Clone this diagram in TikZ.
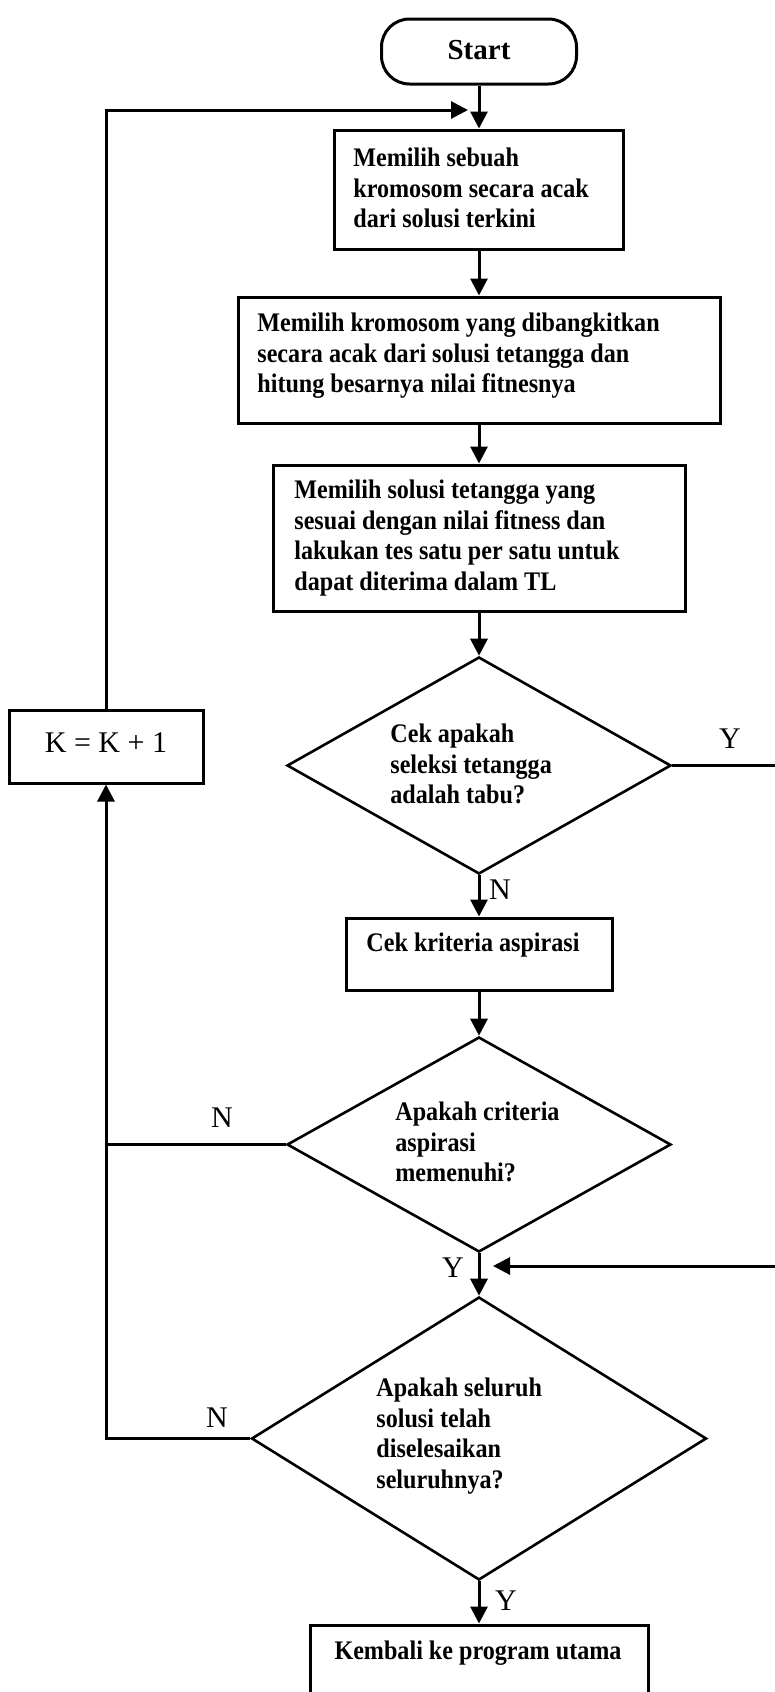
\documentclass[tikz,border=0pt]{standalone}
\usepackage{fontspec}
\setmainfont{Liberation Serif}
\newfontfamily\boxfont[FakeStretch=0.9]{Liberation Serif}
\usetikzlibrary{arrows.meta,shapes.geometric}
\tikzset{
  ln/.style={line width=1.5pt},
  arr/.style={line width=1.5pt,-{Triangle[length=8.5pt,width=8.5pt]}},
  boxshape/.style={draw,line width=1.5pt,inner sep=0pt},
  dia/.style={draw,diamond,line width=1.3pt,inner sep=0pt},
  txt/.style={font=\boxfont\bfseries\fontsize{13.4pt}{15.25pt}\selectfont,align=left,inner sep=0pt,anchor=west},
  ctxt/.style={font=\boxfont\bfseries\fontsize{13.4pt}{15.25pt}\selectfont,inner sep=0pt},
  lbl/.style={font=\fontsize{15pt}{18pt}\selectfont,inner sep=0pt}
}
\begin{document}
\begin{tikzpicture}[x=0.5pt,y=-0.5pt]
\useasboundingbox (0,0) rectangle (775,1692);
\fill[white] (0,0) rectangle (775,1692);
\clip (0,0) rectangle (775,1692);

% nodes
\node[boxshape,rounded corners=14pt,minimum width=97.5pt,minimum height=32.5pt] (start) at (479,51.5) {};
\node[font=\bfseries\fontsize{14.5pt}{17pt}\selectfont,inner sep=0pt] (starttxt) at (479,50) {Start};

\node[boxshape,minimum width=144.5pt,minimum height=59.5pt] (box1) at (479,189.5) {};
\node[txt] (box1txt) at (353,188) {Memilih sebuah\\kromosom secara acak\\dari solusi terkini};

\node[boxshape,minimum width=241pt,minimum height=63pt] (box2) at (479,360) {};
\node[txt] (box2txt) at (257,356) {Memilih kromosom yang dibangkitkan\\secara acak dari solusi tetangga dan\\hitung besarnya nilai fitnesnya};

\node[boxshape,minimum width=206pt,minimum height=73pt] (box3) at (479,538) {};
\node[txt] (box3txt) at (294,538) {Memilih solusi tetangga yang\\sesuai dengan nilai fitness dan\\lakukan tes satu per satu untuk\\dapat diterima dalam TL};

\node[dia,minimum width=192pt,minimum height=108.5pt] (d1) at (479,765.5) {};
\node[txt] (d1txt) at (390,764) {Cek apakah\\seleksi tetangga\\adalah tabu?};

\node[boxshape,minimum width=133pt,minimum height=36pt] (cek) at (479,954) {};
\node[ctxt] (cektxt) at (473,945) {Cek kriteria aspirasi};

\node[dia,minimum width=192pt,minimum height=107.5pt] (d2) at (479,1144.5) {};
\node[txt] (d2txt) at (395,1142) {Apakah criteria\\aspirasi\\memenuhi?};

\node[dia,minimum width=227.5pt,minimum height=141.5pt] (d3) at (479,1438.5) {};
\node[txt] (d3txt) at (376,1436) {Apakah seluruh\\solusi telah\\diselesaikan\\seluruhnya?};

\node[boxshape,minimum width=169pt,minimum height=45pt] (endbox) at (479,1670) {};
\node[ctxt] (endtxt) at (478,1653) {Kembali ke program utama};

\node[boxshape,minimum width=97pt,minimum height=36.5pt] (kbox) at (106,746.5) {};
\node[lbl] (ktxt) at (106,743) {K = K + 1};

% helper coordinates
\coordinate (looptip) at (468,110);
\coordinate (rx) at (800,0);
\coordinate (jr) at (493,1266);

% main flow
\draw[arr] (start.south) -- (box1.north);
\draw[arr] (box1.south) -- (box2.north);
\draw[arr] (box2.south) -- (box3.north);
\draw[arr] (box3.south) -- (d1.north);
\draw[arr] (d1.south) -- (cek.north);
\draw[arr] (cek.south) -- (d2.north);
\draw[arr] (d2.south) -- (d3.north);
\draw[arr] (d3.south) -- (endbox.north);

% loops
\draw[arr] (kbox.north) |- (looptip);
\draw[arr] (d3.west) -| (kbox.south);
\draw[ln] (d2.west) -- (d2.west -| kbox.south);
\draw[arr] (d1.east) -- (d1.east -| rx) |- (jr);

% labels
\node[lbl] (lY1) at (730,739) {Y};
\node[lbl] (lN1) at (500,890) {N};
\node[lbl] (lN2) at (222,1118) {N};
\node[lbl] (lY2) at (453,1268) {Y};
\node[lbl] (lN3) at (217,1418) {N};
\node[lbl] (lY3) at (506,1601) {Y};
\end{tikzpicture}
\end{document}
